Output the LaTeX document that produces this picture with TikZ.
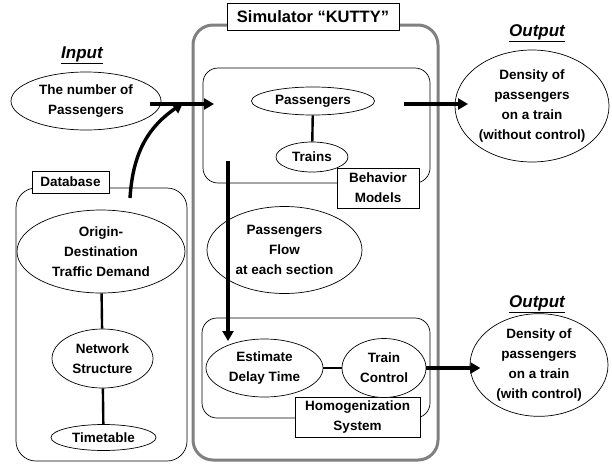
\documentclass[tikz,border=0pt]{standalone}
\usepackage{fontspec}
\setmainfont{Liberation Sans}
\usetikzlibrary{shapes.geometric,arrows.meta}
\begin{document}
\begin{tikzpicture}[x=1pt,y=-1pt,
  txt/.style={font=\fontsize{13.5}{20}\selectfont\bfseries, align=center},
  ell/.style={ellipse, draw, line width=0.7pt, inner sep=0pt, fill=white, txt},
  lbl/.style={draw, line width=0.7pt, fill=white, inner sep=0pt, txt},
  big/.style={line width=3.4pt, -{Triangle[length=10pt,width=11pt]}},
  link/.style={line width=2.4pt},
  head/.style={font=\fontsize{17}{20}\selectfont\bfseries\itshape}
]
\useasboundingbox (0,0) rectangle (612,466);
% outer simulator box
\draw[gray, line width=3pt, rounded corners=20pt] (193,25) rectangle (438,460);
\node[lbl, minimum width=172, minimum height=27, font=\fontsize{16.5}{20}\selectfont\bfseries] (title) at (313,16.5) {Simulator “KUTTY”};
% behavior models box
\draw[line width=0.7pt, rounded corners=15pt] (203,68) rectangle (430,183);
\node[lbl, minimum width=82, minimum height=40] (bm) at (378,188) {Behavior\\Models};
\node[ell, minimum width=123, minimum height=28] (pass) at (313,101) {Passengers};
\node[ell, minimum width=72, minimum height=30] (trains) at (312,157) {Trains};
\draw[link] (pass) -- (trains);
% homogenization box
\draw[line width=0.7pt, rounded corners=15pt] (202,318) rectangle (430,418);
\node[lbl, minimum width=125, minimum height=40] (hs) at (357.5,417) {Homogenization\\System};
\node[ell, minimum width=117, minimum height=58] (est) at (264.5,368) {Estimate\\Delay Time};
\node[ell, minimum width=84, minimum height=59] (tc) at (384,368) {Train\\Control};
\draw[link] (est) -- (tc);
% passengers flow
\node[ell, minimum width=155, minimum height=87] (flow) at (284.5,250) {Passengers\\Flow\\at each section};
% database
\draw[line width=0.7pt, rounded corners=20pt] (16,188) rectangle (187,461);
\node[lbl, minimum width=77, minimum height=22] (db) at (70.5,182) {Database};
\node[ell, minimum width=168, minimum height=83] (od) at (101,251.5) {Origin-\\Destination\\Traffic Demand};
\node[ell, minimum width=101, minimum height=59] (net) at (102.5,358.5) {Network\\Structure};
\node[ell, minimum width=105, minimum height=26] (tt) at (103.5,437.5) {Timetable};
\draw[link] (od) -- (net);
\draw[link] (net) -- (tt);
% input
\node[head] (inlab) at (82,55) {\underline{Input}};
\node[ell, minimum width=150, minimum height=58] (inp) at (86,101) {The number of\\Passengers};
% outputs
\node[head] (out1lab) at (537,33) {\underline{Output}};
\node[ell, minimum width=154, minimum height=112] (out1) at (532,106) {Density of\\passengers\\on a train\\(without control)};
\node[head] (out2lab) at (537,304) {\underline{Output}};
\node[ell, minimum width=138, minimum height=100] (out2) at (539,365) {Density of\\passengers\\on a train\\(with control)};
% arrows
\coordinate (inS) at (150,104);
\coordinate (inT) at (214,104);
\draw[big] (inS) -- (inT);
\coordinate (dbS) at (130,198);
\coordinate (dbT) at (183,103);
\draw[big] (dbS) .. controls (133,150) and (150,126) .. (dbT);
\coordinate (pS) at (404,104);
\coordinate (pT) at (468,104);
\draw[big] (pS) -- (pT);
\coordinate (vS) at (228,161);
\coordinate (vT) at (228,341);
\draw[big] (vS) -- (vT);
\draw[big] (tc.east) -- ++(54,0) coordinate (o2T);
\end{tikzpicture}
\end{document}
